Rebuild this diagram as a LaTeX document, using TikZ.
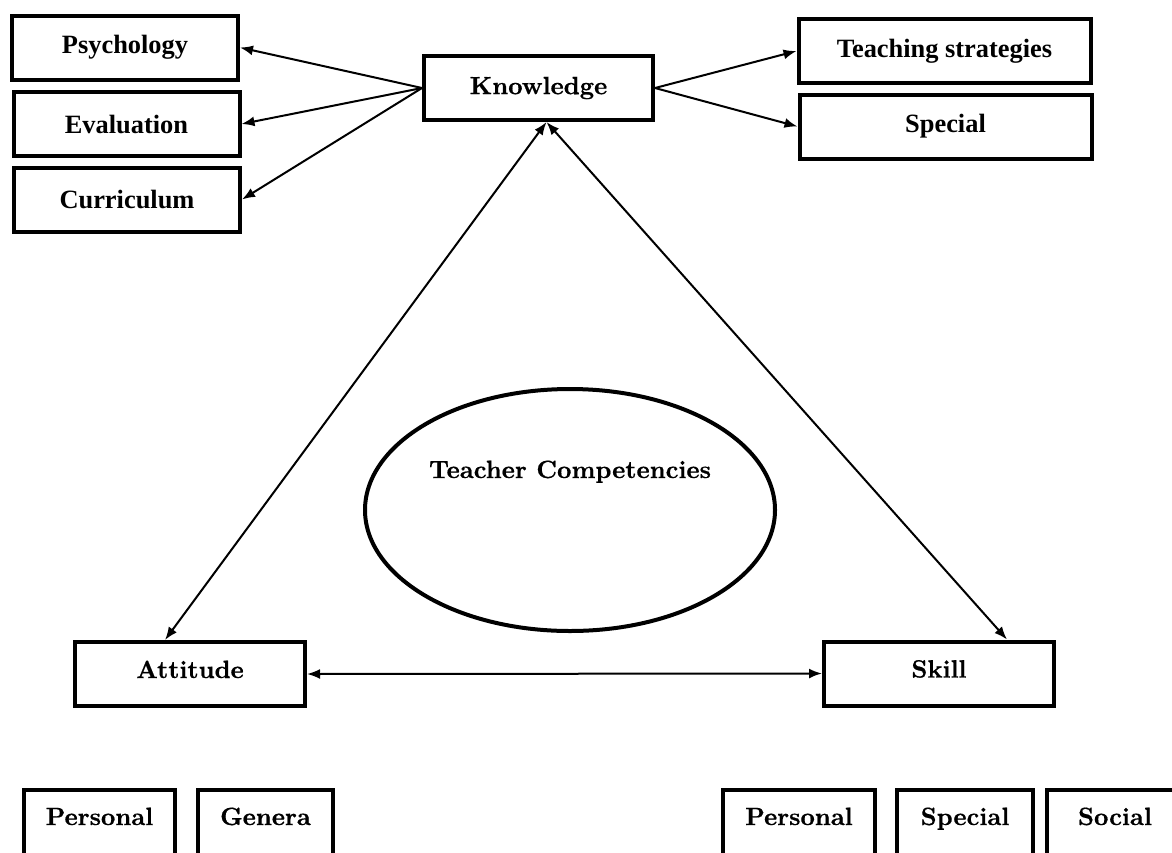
\documentclass[tikz,border=0pt]{standalone}
\usepackage{fontspec}
\usepackage{tikz}
\usetikzlibrary{arrows.meta,shapes.geometric}
\newfontfamily\timesfont{Liberation Serif}
\newfontfamily\goudyfont{lmroman10-bold.otf}[FakeBold=0.6]

\tikzset{
	box/.style={draw, line width=2pt, minimum height=32pt, inner sep=0pt},
	tbox/.style={box, font=\timesfont\bfseries\fontsize{13.2}{15}\selectfont},
	gbox/.style={box, font=\goudyfont\fontsize{12.5}{15}\selectfont},
	openbox/.style={gbox, anchor=north, text height=9pt, text depth=40pt, inner ysep=8.5pt},
	link/.style={line width=1pt, -{Latex[length=6.5pt,width=5pt]}},
	both/.style={line width=1pt, {Latex[length=6.5pt,width=5pt]}-{Latex[length=6.5pt,width=5pt]}}
}

\begin{document}
\begin{tikzpicture}[x=0.5pt,y=-0.5pt]
	\useasboundingbox (0,0) rectangle (1172,852);
	\clip (0,0) rectangle (1172,852);
	%\draw[help lines] (0,0) grid[step=50] (1172,852);
	\node[gbox, minimum width=114.5pt] (know) at (538.5,88) {Knowledge};
	\node[tbox, minimum width=113pt] (psych) at (125,47.5) {Psychology};
	\node[tbox, minimum width=113pt] (eval) at (126.5,124) {Evaluation};
	\node[tbox, minimum width=113pt] (curr) at (127,199.5) {Curriculum};
	\node[tbox, minimum width=146pt] (teach) at (944.5,51) {Teaching strategies};
	\node[tbox, minimum width=146pt] (spec) at (945.5,126.5) {Special};
	\node[gbox, ellipse, minimum width=205pt, minimum height=121pt,
		text height=9pt, text depth=41pt] (comp) at (570,510) {Teacher Competencies};
	\node[gbox, minimum width=115pt, text height=9pt, text depth=5pt] (att) at (190,674) {Attitude};
	\node[gbox, minimum width=115pt, text height=9pt, text depth=5pt] (skill) at (939,673.5) {Skill};
	\node[openbox, minimum width=75.5pt] (pers1) at (99.5,788) {Personal};
	\node[openbox, minimum width=67.5pt] (gen) at (265.5,788) {Genera};
	\node[openbox, minimum width=76pt] (pers2) at (799,788) {Personal};
	\node[openbox, minimum width=68pt] (spec2) at (965,788) {Special};
	\node[openbox, minimum width=68pt] (soc) at (1115,788) {Social};
	\draw[link] (know.west) -- (psych.east);
	\draw[link] (know.west) -- (eval.east);
	\draw[link] (know.west) -- (curr.east);
	\draw[link] (know.east) -- (teach.west);
	\draw[link] (know.east) -- (spec.west);
	\draw[both] ([xshift=4pt]know.south) -- ([xshift=-12.5pt]att.north);
	\draw[both] ([xshift=4pt]know.south) -- ([xshift=34pt]skill.north);
	\draw[both] (att.east) -- (skill.west);
\end{tikzpicture}
\end{document}
